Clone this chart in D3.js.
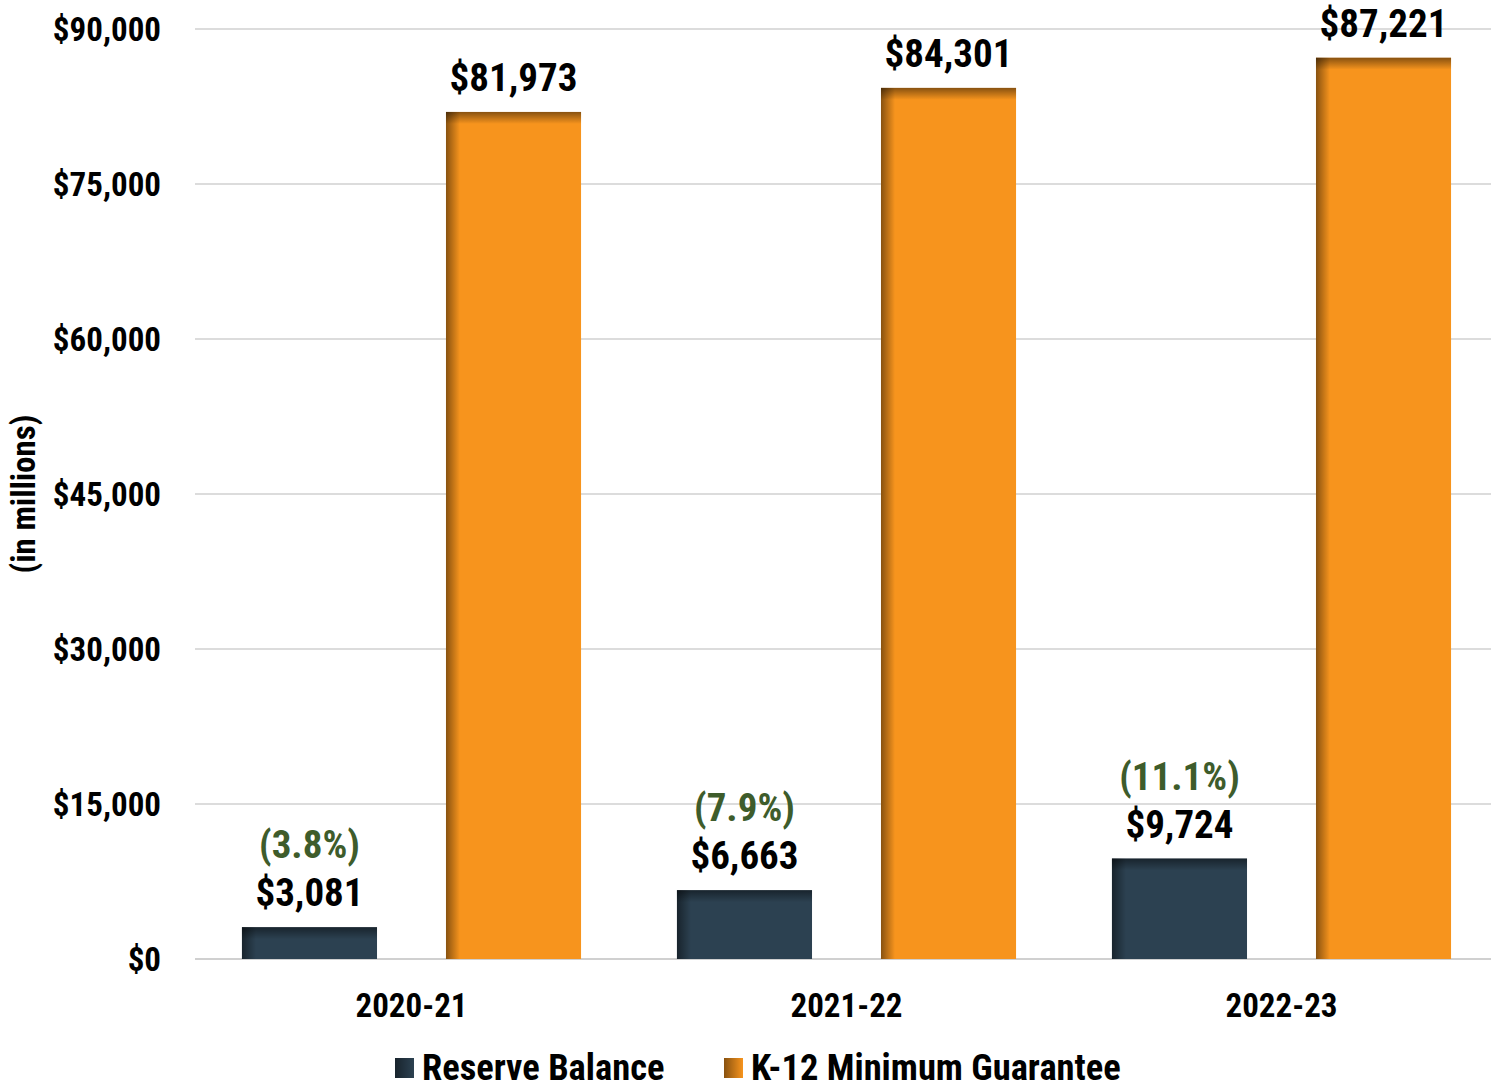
<!DOCTYPE html>
<html>
<head>
<meta charset="utf-8">
<script src="https://cdn.jsdelivr.net/npm/d3@7"></script>
<style>
  body { margin: 0; background: #fff; }
  text { font-family: "Liberation Sans Narrow", "Arial Narrow", "Roboto Condensed", sans-serif; font-weight: bold; }
</style>
</head>
<body>
<script>
var years = ["2020-21", "2021-22", "2022-23"];
var seriesNames = ["Reserve Balance", "K-12 Minimum Guarantee"];
var reserve = [3081, 6663, 9724];
var k12 = [81973, 84301, 87221];
var pctLabels = ["(3.8%)", "(7.9%)", "(11.1%)"];
var yTicks = [0, 15000, 30000, 45000, 60000, 75000, 90000];

var width = 1491, height = 1088;
var plot = { left: 194, right: 1499, top: 29, bottom: 959 };

var svg = d3.select("body").append("svg")
    .attr("width", width)
    .attr("height", height);

var defs = svg.append("defs");
// inner shading on left and top of bars
function shade(id, x1, y1, x2, y2) {
  var g = defs.append("linearGradient").attr("id", id)
      .attr("x1", x1).attr("y1", y1).attr("x2", x2).attr("y2", y2);
  g.append("stop").attr("offset", 0).attr("stop-color", "#000").attr("stop-opacity", 0.45);
  g.append("stop").attr("offset", 1).attr("stop-color", "#000").attr("stop-opacity", 0);
}
shade("shadeLeft", 0, 0, 1, 0);
shade("shadeTop", 0, 0, 0, 1);

var colors = { "Reserve Balance": "#2c4151", "K-12 Minimum Guarantee": "#f7941d" };

var x0 = d3.scaleBand().domain(years).range([plot.left, plot.right]).padding(0);
var x1 = d3.scaleBand().domain(seriesNames).range([0, x0.bandwidth()])
    .paddingInner(0.338).paddingOuter(0.235);
var y = d3.scaleLinear().domain([0, 90000]).range([plot.bottom, plot.top]);

// gridlines
svg.append("g").selectAll("line").data(yTicks).join("line")
    .attr("x1", 195).attr("x2", 1491)
    .attr("y1", function (d) { return y(d); })
    .attr("y2", function (d) { return y(d); })
    .attr("stroke", function (d) { return d === 0 ? "#d0d0d0" : "#dcdcdc"; })
    .attr("stroke-width", 2);

var yAxis = d3.axisLeft(y).tickValues(yTicks)
    .tickFormat(function (d) { return "$" + d3.format(",")(d); })
    .tickSize(0).tickPadding(0);
var yg = svg.append("g").attr("transform", "translate(161,0)").call(yAxis);
yg.select(".domain").remove();
yg.selectAll("text").attr("font-size", 33).attr("fill", "#000")
    .attr("font-family", null).attr("dy", "0.35em");

svg.append("text")
    .attr("transform", "translate(35,494) rotate(-90)")
    .attr("text-anchor", "middle")
    .attr("font-size", 33)
    .text("(in millions)");

var data = years.map(function (yr, i) {
  return { year: yr, values: [
    { name: seriesNames[0], value: reserve[i], pct: pctLabels[i] },
    { name: seriesNames[1], value: k12[i] }
  ] };
});

var groups = svg.append("g").selectAll("g").data(data).join("g")
    .attr("transform", function (d) { return "translate(" + x0(d.year) + ",0)"; });

var bars = groups.selectAll("g.bar").data(function (d) { return d.values; }).join("g")
    .attr("class", "bar");

bars.append("rect")
    .attr("x", function (d) { return x1(d.name); })
    .attr("y", function (d) { return y(d.value); })
    .attr("width", x1.bandwidth())
    .attr("height", function (d) { return y(0) - y(d.value); })
    .attr("fill", function (d) { return colors[d.name]; });

bars.append("rect")
    .attr("x", function (d) { return x1(d.name); })
    .attr("y", function (d) { return y(d.value); })
    .attr("width", 14)
    .attr("height", function (d) { return y(0) - y(d.value); })
    .attr("fill", "url(#shadeLeft)");

bars.append("rect")
    .attr("x", function (d) { return x1(d.name); })
    .attr("y", function (d) { return y(d.value); })
    .attr("width", x1.bandwidth())
    .attr("height", function (d) { return Math.min(12, y(0) - y(d.value)); })
    .attr("fill", "url(#shadeTop)");

bars.append("text")
    .attr("x", function (d) { return x1(d.name) + x1.bandwidth() / 2; })
    .attr("y", function (d) { return y(d.value) - 21; })
    .attr("text-anchor", "middle")
    .attr("font-size", 39)
    .attr("fill", "#000")
    .text(function (d) { return "$" + d3.format(",")(d.value); });

bars.filter(function (d) { return d.pct; }).append("text")
    .attr("x", function (d) { return x1(d.name) + x1.bandwidth() / 2; })
    .attr("y", function (d) { return y(d.value) - 69; })
    .attr("text-anchor", "middle")
    .attr("font-size", 39)
    .attr("fill", "#3e5c2b")
    .text(function (d) { return d.pct; });

// x axis labels
var xAxis = d3.axisBottom(x0).tickSize(0).tickPadding(0);
var xg = svg.append("g").attr("transform", "translate(0,1017)").call(xAxis);
xg.select(".domain").remove();
xg.selectAll("text").attr("font-size", 33).attr("fill", "#000")
    .attr("font-family", null).attr("dy", "0");

// legend
var legendX = [395, 724];
var legend = svg.append("g").selectAll("g").data(seriesNames).join("g")
    .attr("transform", function (d, i) { return "translate(" + legendX[i] + ",1058)"; });
legend.append("rect").attr("width", 19).attr("height", 20)
    .attr("fill", function (d) { return colors[d]; });
legend.append("rect").attr("width", 19).attr("height", 20)
    .attr("fill", "url(#shadeLeft)");
legend.append("text").attr("x", 27).attr("y", 22)
    .attr("font-size", 36.5).attr("fill", "#000")
    .text(function (d) { return d; });
</script>
</body>
</html>
